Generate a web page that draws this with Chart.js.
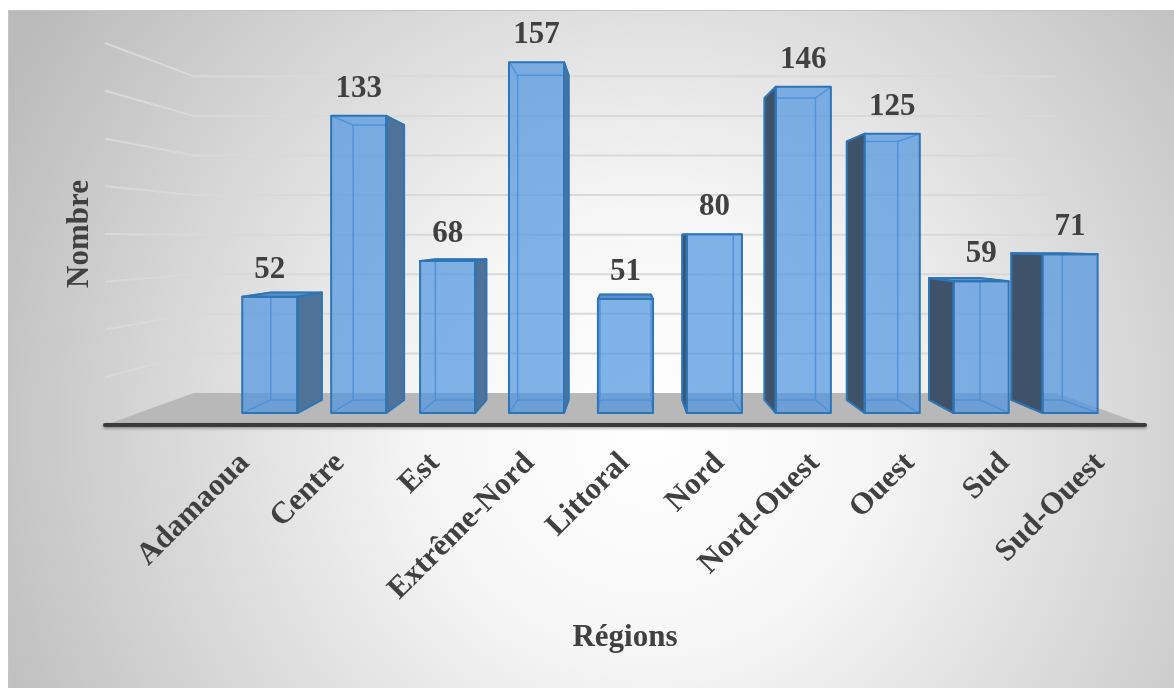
<!DOCTYPE html>
<html>
<head>
<meta charset="utf-8">
<style>
  html, body { margin: 0; padding: 0; background: #fff; overflow: hidden; }
  canvas { display: block; }
</style>
<script src="https://cdn.jsdelivr.net/npm/chart.js@4.4.1/dist/chart.umd.min.js"></script>
</head>
<body>
<canvas id="chart" width="1174" height="688"></canvas>
<script>
// Data
const regions = ['Adamaoua', 'Centre', 'Est', 'Extrême-Nord', 'Littoral', 'Nord', 'Nord-Ouest', 'Ouest', 'Sud', 'Sud-Ouest'];
const counts = [52, 133, 68, 157, 51, 80, 146, 125, 59, 71];
const yMax = 160;
const yStep = 20;

// Perspective of the fake 3D scene
const VP = { x: 625, y: 238 };
const K_FRONT = 0.936;   // bar front faces
const K_BACK = 0.866;    // bar back faces
const K_WALL = 0.829;    // back wall
const FLOOR_LEFT = 105;
const FLOOR_RIGHT = 1145;

const FONT = '"Liberation Serif", "Times New Roman", serif';
const TEXT = '#404040';

function proj(x, y, k) {
  return [VP.x + k * (x - VP.x), VP.y + k * (y - VP.y)];
}

function poly(ctx, pts) {
  ctx.beginPath();
  ctx.moveTo(pts[0][0], pts[0][1]);
  for (let i = 1; i < pts.length; i++) ctx.lineTo(pts[i][0], pts[i][1]);
  ctx.closePath();
}

function line(ctx, a, b) {
  ctx.beginPath();
  ctx.moveTo(a[0], a[1]);
  ctx.lineTo(b[0], b[1]);
  ctx.stroke();
}

function drawBox(ctx, L, R, T, B) {
  const ftl = proj(L, T, K_FRONT), ftr = proj(R, T, K_FRONT);
  const fbl = proj(L, B, K_FRONT), fbr = proj(R, B, K_FRONT);
  const btl = proj(L, T, K_BACK), btr = proj(R, T, K_BACK);
  const bbl = proj(L, B, K_BACK), bbr = proj(R, B, K_BACK);

  // hidden edges, seen through the glassy front
  ctx.strokeStyle = 'rgba(60,130,205,0.9)';
  ctx.lineWidth = 1.5;
  poly(ctx, [btl, btr, bbr, bbl]);
  ctx.stroke();
  line(ctx, fbl, bbl);
  line(ctx, fbr, bbr);
  line(ctx, ftl, btl);
  line(ctx, ftr, btr);

  // side face
  let side = null;
  if (R < VP.x) {
    side = [ftr, btr, bbr, fbr];
    ctx.fillStyle = '#4f7398';
  } else if (L > VP.x) {
    side = [ftl, btl, bbl, fbl];
    ctx.fillStyle = '#3e5369';
  }
  if (side) { poly(ctx, side); ctx.fill(); }

  // top face
  let top = null;
  if (T > VP.y) {
    top = [ftl, ftr, btr, btl];
    poly(ctx, top);
    ctx.fillStyle = '#5c92cc';
    ctx.fill();
  }

  // front face
  poly(ctx, [ftl, ftr, fbr, fbl]);
  ctx.fillStyle = 'rgba(80,150,225,0.72)';
  ctx.fill();

  ctx.strokeStyle = '#2e75b6';
  ctx.lineWidth = 2;
  ctx.lineJoin = 'round';
  ctx.stroke();
  if (side) { poly(ctx, side); ctx.stroke(); }
  if (top) { poly(ctx, top); ctx.stroke(); }
}

const scene3d = {
  id: 'scene3d',
  beforeDraw(chart) {
    const ctx = chart.ctx;
    const y = chart.scales.y;
    ctx.save();
    ctx.fillStyle = '#fff';
    ctx.fillRect(0, 0, chart.width, chart.height);

    // chart box with radial shading
    const g = ctx.createRadialGradient(650, 430, 0, 650, 430, 740);
    g.addColorStop(0, '#ffffff');
    g.addColorStop(0.3, '#f6f6f6');
    g.addColorStop(1, '#bababa');
    ctx.fillStyle = g;
    ctx.fillRect(8, 10, 1166, 678);
    ctx.strokeStyle = '#c4c4c4';
    ctx.lineWidth = 1;
    ctx.strokeRect(8.5, 10.5, 1166, 680);

    // gridlines on the left and back walls
    ctx.strokeStyle = '#d9d9d9';
    ctx.lineWidth = 2;
    for (let v = yStep; v <= yMax; v += yStep) {
      const py = y.getPixelForValue(v);
      const a = proj(FLOOR_LEFT, py, K_WALL);
      const b = proj(FLOOR_RIGHT, py, K_WALL);
      ctx.beginPath();
      ctx.moveTo(FLOOR_LEFT, py);
      ctx.lineTo(a[0], a[1]);
      ctx.lineTo(b[0], b[1]);
      ctx.stroke();
    }

    // floor
    const base = y.getPixelForValue(0);
    poly(ctx, [[FLOOR_LEFT, base], [FLOOR_RIGHT, base], proj(FLOOR_RIGHT, base, K_WALL), proj(FLOOR_LEFT, base, K_WALL)]);
    ctx.fillStyle = '#b8b8b8';
    ctx.fill();

    // front edge of the floor
    ctx.shadowColor = 'rgba(0,0,0,0.35)';
    ctx.shadowBlur = 3;
    ctx.shadowOffsetY = 1.5;
    ctx.strokeStyle = '#3a3a3a';
    ctx.lineWidth = 4;
    ctx.lineCap = 'round';
    ctx.beginPath();
    ctx.moveTo(FLOOR_LEFT, base);
    ctx.lineTo(FLOOR_RIGHT, base);
    ctx.stroke();
    ctx.restore();
  },
  afterDatasetsDraw(chart) {
    const ctx = chart.ctx;
    const meta = chart.getDatasetMeta(0);
    ctx.save();
    meta.data.forEach(bar => {
      const p = bar.getProps(['x', 'y', 'base', 'width'], true);
      drawBox(ctx, p.x - p.width / 2, p.x + p.width / 2, p.y, p.base);
    });
    ctx.restore();
  },
  afterDraw(chart) {
    const ctx = chart.ctx;
    const meta = chart.getDatasetMeta(0);
    const xs = chart.scales.x;
    ctx.save();
    ctx.fillStyle = TEXT;
    ctx.font = 'bold 31px ' + FONT;

    // value labels above each bar
    ctx.textAlign = 'center';
    ctx.textBaseline = 'alphabetic';
    meta.data.forEach((bar, i) => {
      const p = proj(bar.x, bar.y, K_FRONT);
      ctx.fillText(String(counts[i]), p[0], p[1] - 19);
    });

    // category labels at 45 degrees
    regions.forEach((name, i) => {
      const x = xs.getPixelForValue(i);
      ctx.save();
      ctx.translate(x + 5, 464);
      ctx.rotate(-Math.PI / 4);
      ctx.textAlign = 'right';
      ctx.fillText(name, 0, 0);
      ctx.restore();
    });

    // axis titles
    ctx.textAlign = 'center';
    ctx.fillText('Régions', 625, 646);
    ctx.save();
    ctx.translate(88, 234);
    ctx.rotate(-Math.PI / 2);
    ctx.fillText('Nombre', 0, 0);
    ctx.restore();
    ctx.restore();
  }
};

new Chart(document.getElementById('chart'), {
  type: 'bar',
  data: {
    labels: regions,
    datasets: [{
      label: 'Nombre',
      data: counts,
      backgroundColor: 'rgba(0,0,0,0)',
      borderWidth: 0,
      categoryPercentage: 1,
      barPercentage: 0.62
    }]
  },
  options: {
    responsive: false,
    animation: false,
    devicePixelRatio: 1,
    layout: { padding: { left: 198, right: 26, top: 43, bottom: 263 } },
    plugins: {
      legend: { display: false },
      tooltip: { enabled: false }
    },
    scales: {
      x: { display: false },
      y: { display: false, min: 0, max: yMax, ticks: { stepSize: yStep } }
    }
  },
  plugins: [scene3d]
});
</script>
</body>
</html>
